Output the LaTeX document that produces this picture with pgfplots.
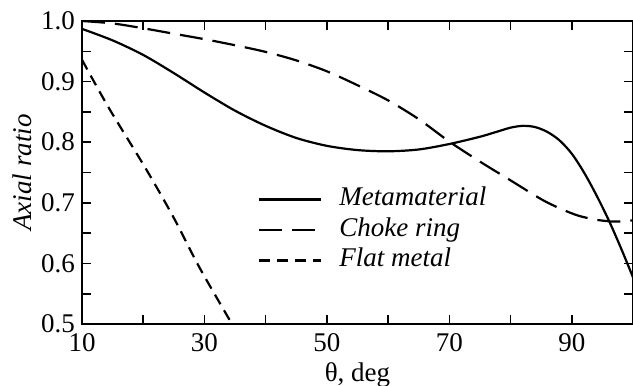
\documentclass[border=0pt]{standalone}
\usepackage{fontspec}
\setmainfont{Liberation Serif}
\usepackage{pgfplots}
\pgfplotsset{compat=1.18}
\begin{document}
\begin{tikzpicture}
\begin{axis}[
  scale only axis,
  width=275.5pt, height=151.5pt,
  xmin=10, xmax=100, ymin=0.5, ymax=1.0,
  axis line style={line width=1.3pt},
  tick style={line width=0.8pt, black},
  major tick length=4.5pt,
  tick align=inside,
  xtick pos=both, ytick pos=both,
  xtick={10,20,30,40,50,60,70,80,90,100},
  xticklabels={10,,30,,50,,70,,90,},
  ytick={0.5,0.55,0.6,0.65,0.7,0.75,0.8,0.85,0.9,0.95,1.0},
  yticklabels={0.5,,0.6,,0.7,,0.8,,0.9,,1.0},
  tick label style={font=\fontsize{13.5}{15}\selectfont},
  label style={font=\fontsize{13.5}{15}\selectfont},
  xticklabel style={yshift=-1pt},
  xlabel={θ, deg},
  ylabel={\textit{Axial ratio}},
  xlabel style={yshift=1pt},
  ylabel style={yshift=-2pt},
  legend image code/.code={\draw[#1] (0pt,0pt) -- (31pt,0pt);},
  legend cell align=left,
  legend style={at={(axis cs:38.7,0.655)}, anchor=west, draw=none, fill=none,
    inner sep=0pt, row sep=2.25pt,
    nodes={inner sep=0pt, text height=9.5pt, text depth=3.5pt, font=\fontsize{13.5}{15}\selectfont\itshape},
    /tikz/every odd column/.append style={column sep=8.5pt}},
]
\addplot[black, line width=1.1pt, smooth] coordinates {
(10,0.987) (15,0.968) (20,0.944) (25,0.914) (30,0.882) (35,0.852) (40,0.827)
(45,0.807) (50,0.794) (55,0.787) (60,0.785) (65,0.788) (70,0.797)
(75,0.809) (78,0.818) (80,0.824) (82,0.827) (84,0.825) (86,0.817)
(88,0.803) (90,0.781) (92,0.750) (94,0.713) (96,0.672) (98,0.626) (100,0.577)
};
\addlegendentry{Metamaterial}
\addplot[black, line width=1.1pt, smooth, dash pattern=on 11.5pt off 5pt] coordinates {
(10,1.000) (15,0.996) (20,0.988) (25,0.979) (30,0.970) (35,0.960) (40,0.949)
(45,0.935) (50,0.917) (55,0.894) (60,0.869) (65,0.838) (70,0.801)
(75,0.768) (80,0.737) (85,0.706) (88,0.691) (91,0.679) (94,0.672)
(97,0.669) (100,0.671)
};
\addlegendentry{Choke ring}
\addplot[black, line width=1.1pt, smooth, dash pattern=on 5.5pt off 3.5pt] coordinates {
(10,0.936) (14.3,0.858) (20.5,0.755) (25,0.675) (29.2,0.593) (34.5,0.500)
};
\addlegendentry{Flat metal}
\end{axis}
\pgfresetboundingbox
\path[use as bounding box] ([xshift=-41pt, yshift=-30.5pt]current axis.south west) rectangle ([yshift=10.5pt]current axis.north east);
\end{tikzpicture}
\end{document}
